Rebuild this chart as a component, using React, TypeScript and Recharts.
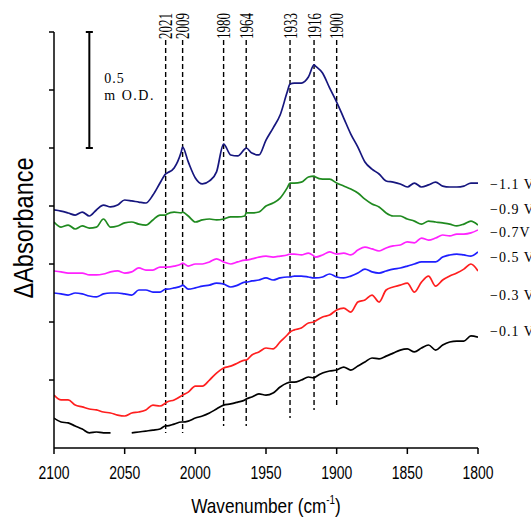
import { LineChart, Line, XAxis, YAxis, ReferenceLine, ReferenceDot } from "recharts";

// wavenumber grid (cm-1), 5 cm-1 steps plus the marked band positions
const wavenumbers = [
  2100, 2095, 2090, 2085, 2080, 2075, 2070, 2065, 2060, 2055,
  2050, 2045, 2040, 2035, 2030, 2025, 2021, 2020, 2015, 2010,
  2009, 2005, 2000, 1995, 1990, 1985, 1980, 1975, 1970, 1965,
  1964, 1960, 1955, 1950, 1945, 1940, 1935, 1933, 1930, 1925,
  1920, 1916, 1915, 1910, 1905, 1900, 1895, 1890, 1885, 1880,
  1875, 1870, 1865, 1860, 1855, 1850, 1845, 1840, 1835, 1830,
  1825, 1820, 1815, 1810, 1805, 1800,
];

// ΔA in mOD (offset traces)
const m11 = [
  0.733, 0.728, 0.720, 0.711, 0.724, 0.707, 0.733, 0.754, 0.746, 0.754,
  0.776, 0.772, 0.767, 0.763, 0.797, 0.849, 0.888, 0.892, 0.914, 0.983,
  1.004, 0.940, 0.871, 0.845, 0.858, 0.897, 1.017, 0.970, 0.966, 0.996,
  1.000, 0.978, 0.970, 1.034, 1.086, 1.142, 1.241, 1.276, 1.280, 1.280,
  1.306, 1.358, 1.353, 1.323, 1.259, 1.198, 1.129, 1.060, 1.004, 0.940,
  0.909, 0.888, 0.858, 0.853, 0.845, 0.832, 0.849, 0.832, 0.841, 0.853,
  0.836, 0.832, 0.832, 0.836, 0.849, 0.849,
];
const m09 = [
  0.681, 0.659, 0.668, 0.651, 0.664, 0.655, 0.659, 0.694, 0.659, 0.664,
  0.677, 0.681, 0.672, 0.668, 0.690, 0.711, 0.711, 0.716, 0.724, 0.720,
  0.724, 0.707, 0.681, 0.690, 0.694, 0.690, 0.694, 0.703, 0.703, 0.707,
  0.720, 0.720, 0.724, 0.750, 0.763, 0.784, 0.828, 0.849, 0.849, 0.853,
  0.875, 0.879, 0.875, 0.866, 0.866, 0.849, 0.836, 0.823, 0.806, 0.780,
  0.759, 0.746, 0.720, 0.707, 0.707, 0.694, 0.685, 0.672, 0.685, 0.681,
  0.677, 0.672, 0.664, 0.672, 0.685, 0.668,
];
const m07 = [
  0.470, 0.466, 0.461, 0.461, 0.461, 0.453, 0.453, 0.457, 0.466, 0.470,
  0.461, 0.466, 0.483, 0.474, 0.474, 0.487, 0.487, 0.487, 0.491, 0.500,
  0.504, 0.491, 0.500, 0.500, 0.509, 0.522, 0.509, 0.500, 0.509, 0.517,
  0.517, 0.522, 0.530, 0.534, 0.530, 0.534, 0.539, 0.543, 0.543, 0.539,
  0.547, 0.534, 0.530, 0.539, 0.552, 0.543, 0.547, 0.539, 0.560, 0.573,
  0.565, 0.556, 0.569, 0.578, 0.582, 0.595, 0.591, 0.612, 0.603, 0.612,
  0.625, 0.621, 0.629, 0.629, 0.634, 0.647,
];
const m05 = [
  0.375, 0.371, 0.366, 0.375, 0.371, 0.362, 0.358, 0.371, 0.375, 0.375,
  0.371, 0.366, 0.388, 0.388, 0.379, 0.379, 0.392, 0.392, 0.397, 0.405,
  0.409, 0.392, 0.397, 0.405, 0.409, 0.418, 0.414, 0.401, 0.409, 0.422,
  0.422, 0.427, 0.431, 0.440, 0.431, 0.440, 0.444, 0.444, 0.448, 0.448,
  0.444, 0.440, 0.440, 0.444, 0.457, 0.444, 0.440, 0.448, 0.461, 0.478,
  0.466, 0.461, 0.470, 0.478, 0.483, 0.491, 0.500, 0.509, 0.509, 0.509,
  0.530, 0.539, 0.543, 0.539, 0.534, 0.552,
];
const m03 = [
  -0.065, -0.086, -0.086, -0.108, -0.116, -0.125, -0.129, -0.138, -0.142, -0.151,
  -0.155, -0.142, -0.138, -0.129, -0.108, -0.112, -0.099, -0.095, -0.086, -0.069,
  -0.065, -0.052, -0.026, -0.026, 0.0, 0.030, 0.052, 0.060, 0.073, 0.086,
  0.086, 0.108, 0.121, 0.138, 0.134, 0.164, 0.194, 0.207, 0.216, 0.224,
  0.246, 0.250, 0.254, 0.272, 0.280, 0.302, 0.310, 0.293, 0.336, 0.345,
  0.366, 0.336, 0.388, 0.401, 0.409, 0.418, 0.379, 0.422, 0.448, 0.405,
  0.431, 0.448, 0.461, 0.478, 0.500, 0.470,
];
const m01 = [
  -0.164, -0.181, -0.185, -0.198, -0.211, -0.228, -0.224, -0.228, -0.228, null,
  null, -0.228, -0.224, -0.220, -0.216, -0.211, -0.198, -0.198, -0.190, -0.181,
  -0.181, -0.177, -0.164, -0.155, -0.142, -0.125, -0.108, -0.103, -0.095, -0.086,
  -0.082, -0.073, -0.060, -0.065, -0.056, -0.030, -0.013, -0.009, -0.009, 0.0,
  0.013, 0.009, 0.013, 0.030, 0.039, 0.043, 0.056, 0.043, 0.060, 0.078,
  0.095, 0.091, 0.103, 0.116, 0.129, 0.134, 0.121, 0.138, 0.151, 0.129,
  0.151, 0.164, 0.168, 0.168, 0.190, 0.185,
];

const seriesNames = ["\u22121.1 V", "\u22120.9 V", "\u22120.7V", "\u22120.5 V", "\u22120.3 V", "\u22120.1 V"];
const seriesKeys = ["m11", "m09", "m07", "m05", "m03", "m01"];
const seriesColors = ["#16167e", "#1f8a1f", "#ff22ff", "#1f1fff", "#ff1f1f", "#000000"];
// where each potential label sits on the right edge (mOD)
const seriesLabelY = [0.841, 0.733, 0.634, 0.530, 0.366, 0.211];

const peakBands = [2021, 2009, 1980, 1964, 1933, 1916, 1900];
const peakLineBottoms = [-0.228, -0.228, -0.198, -0.198, -0.164, -0.129, -0.121];
const peakLineTop = 1.466;

const xTicks = [2100, 2075, 2050, 2025, 2000, 1975, 1950, 1925, 1900, 1875, 1850, 1825, 1800];
const yTicks = [0, 0.25, 0.5, 0.75, 1.0, 1.25, 1.5];

const rows = wavenumbers.map((w, i) => ({
  w,
  m11: m11[i],
  m09: m09[i],
  m07: m07[i],
  m05: m05[i],
  m03: m03[i],
  m01: m01[i],
}));

const SERIF = "'Liberation Serif', 'DejaVu Serif', serif";
const SANS = "'Liberation Sans', Arial, sans-serif";

// labels only on the 50 cm-1 ticks, drawn condensed like the original
function XTick({ x, y, payload }: any) {
  if (payload.value % 50 !== 0) return null;
  return (
    <text
      x={x}
      y={y}
      dy="0.71em"
      textAnchor="middle"
      fontFamily={SANS}
      fontSize={18}
      textLength={31}
      lengthAdjust="spacingAndGlyphs"
      fill="#000"
    >
      {payload.value}
    </text>
  );
}

function XTitle({ viewBox }: any) {
  const cx = viewBox.x + viewBox.width / 2;
  const y = viewBox.y + 65;
  return (
    <g transform={`translate(${cx} ${y}) scale(0.82 1)`}>
      <text x={0} y={0} textAnchor="middle" fontFamily={SANS} fontSize={21} fill="#000">
        Wavenumber (cm
        <tspan fontSize={12} dy={-9}>-1</tspan>
        <tspan dy={9}>)</tspan>
      </text>
    </g>
  );
}

function YTitle({ viewBox }: any) {
  const x = viewBox.x + 19;
  const y = viewBox.y + viewBox.height / 2 - 12;
  return (
    <g transform={`translate(${x} ${y}) rotate(-90) scale(0.87 1)`}>
      <text x={0} y={0} textAnchor="middle" fontFamily={SANS} fontSize={27} fill="#000">
        ΔAbsorbance
      </text>
    </g>
  );
}

function PeakLabel({ viewBox, text }: any) {
  const x = viewBox.x;
  const y = viewBox.y - 1;
  return (
    <text
      x={x}
      y={y}
      transform={`rotate(-90 ${x} ${y})`}
      textAnchor="start"
      dominantBaseline="central"
      fontFamily={SERIF}
      fontSize={19}
      textLength={26}
      lengthAdjust="spacingAndGlyphs"
      fill="#000"
    >
      {text}
    </text>
  );
}

function ScaleLabel({ viewBox }: any) {
  const x = viewBox.x + 15;
  return (
    <g fontFamily={SERIF} fontSize={14} fill="#000">
      <text x={x} y={viewBox.y + 51} letterSpacing={1}>0.5</text>
      <text x={x} y={viewBox.y + 68} letterSpacing={1.5}>m O.D.</text>
    </g>
  );
}

function SideLabel({ viewBox, text }: any) {
  return (
    <text
      x={viewBox.x + 12}
      y={viewBox.y}
      dominantBaseline="central"
      fontFamily={SERIF}
      fontSize={14}
      letterSpacing={1}
      fill="#000"
    >
      {text}
    </text>
  );
}

export default function App() {
  return (
    <div style={{ position: "absolute", left: 0, top: 0, background: "#fff" }}>
      <LineChart width={531} height={521} data={rows} margin={{ top: 32, right: 53, bottom: 23, left: 14 }}>
        <XAxis
          dataKey="w"
          type="number"
          domain={[1800, 2100]}
          reversed
          allowDataOverflow
          ticks={xTicks}
          tickSize={6}
          tickMargin={12}
          height={50}
          stroke="#000"
          strokeWidth={1.5}
          tick={<XTick />}
          label={<XTitle />}
        />
        <YAxis
          type="number"
          domain={[-0.293, 1.5]}
          allowDataOverflow
          ticks={yTicks}
          tickFormatter={() => ""}
          tickSize={5}
          width={40}
          stroke="#000"
          strokeWidth={1.5}
          label={<YTitle />}
        />

        {peakBands.map((w, i) => (
          <ReferenceLine
            key={w}
            segment={[
              { x: w, y: peakLineTop },
              { x: w, y: peakLineBottoms[i] },
            ]}
            stroke="#000"
            strokeWidth={1.4}
            strokeDasharray="5 3"
            ifOverflow="visible"
            label={<PeakLabel text={String(w)} />}
          />
        ))}

        {/* 0.5 mOD scale bar */}
        <ReferenceLine
          segment={[
            { x: 2075, y: 1.5 },
            { x: 2075, y: 1.0 },
          ]}
          stroke="#000"
          strokeWidth={2}
          ifOverflow="visible"
          label={<ScaleLabel />}
        />
        <ReferenceLine
          segment={[
            { x: 2077.5, y: 1.5 },
            { x: 2072.5, y: 1.5 },
          ]}
          stroke="#000"
          strokeWidth={2}
          ifOverflow="visible"
        />
        <ReferenceLine
          segment={[
            { x: 2077.5, y: 1.0 },
            { x: 2072.5, y: 1.0 },
          ]}
          stroke="#000"
          strokeWidth={2}
          ifOverflow="visible"
        />

        {seriesKeys.map((k, i) => (
          <Line
            key={k}
            dataKey={k}
            name={seriesNames[i]}
            type="monotone"
            stroke={seriesColors[i]}
            strokeWidth={1.7}
            dot={false}
            connectNulls={false}
            isAnimationActive={false}
          />
        ))}

        {seriesNames.map((n, i) => (
          <ReferenceDot
            key={n}
            x={1800}
            y={seriesLabelY[i]}
            r={0}
            fill="none"
            stroke="none"
            ifOverflow="visible"
            label={<SideLabel text={n} />}
          />
        ))}
      </LineChart>
    </div>
  );
}
